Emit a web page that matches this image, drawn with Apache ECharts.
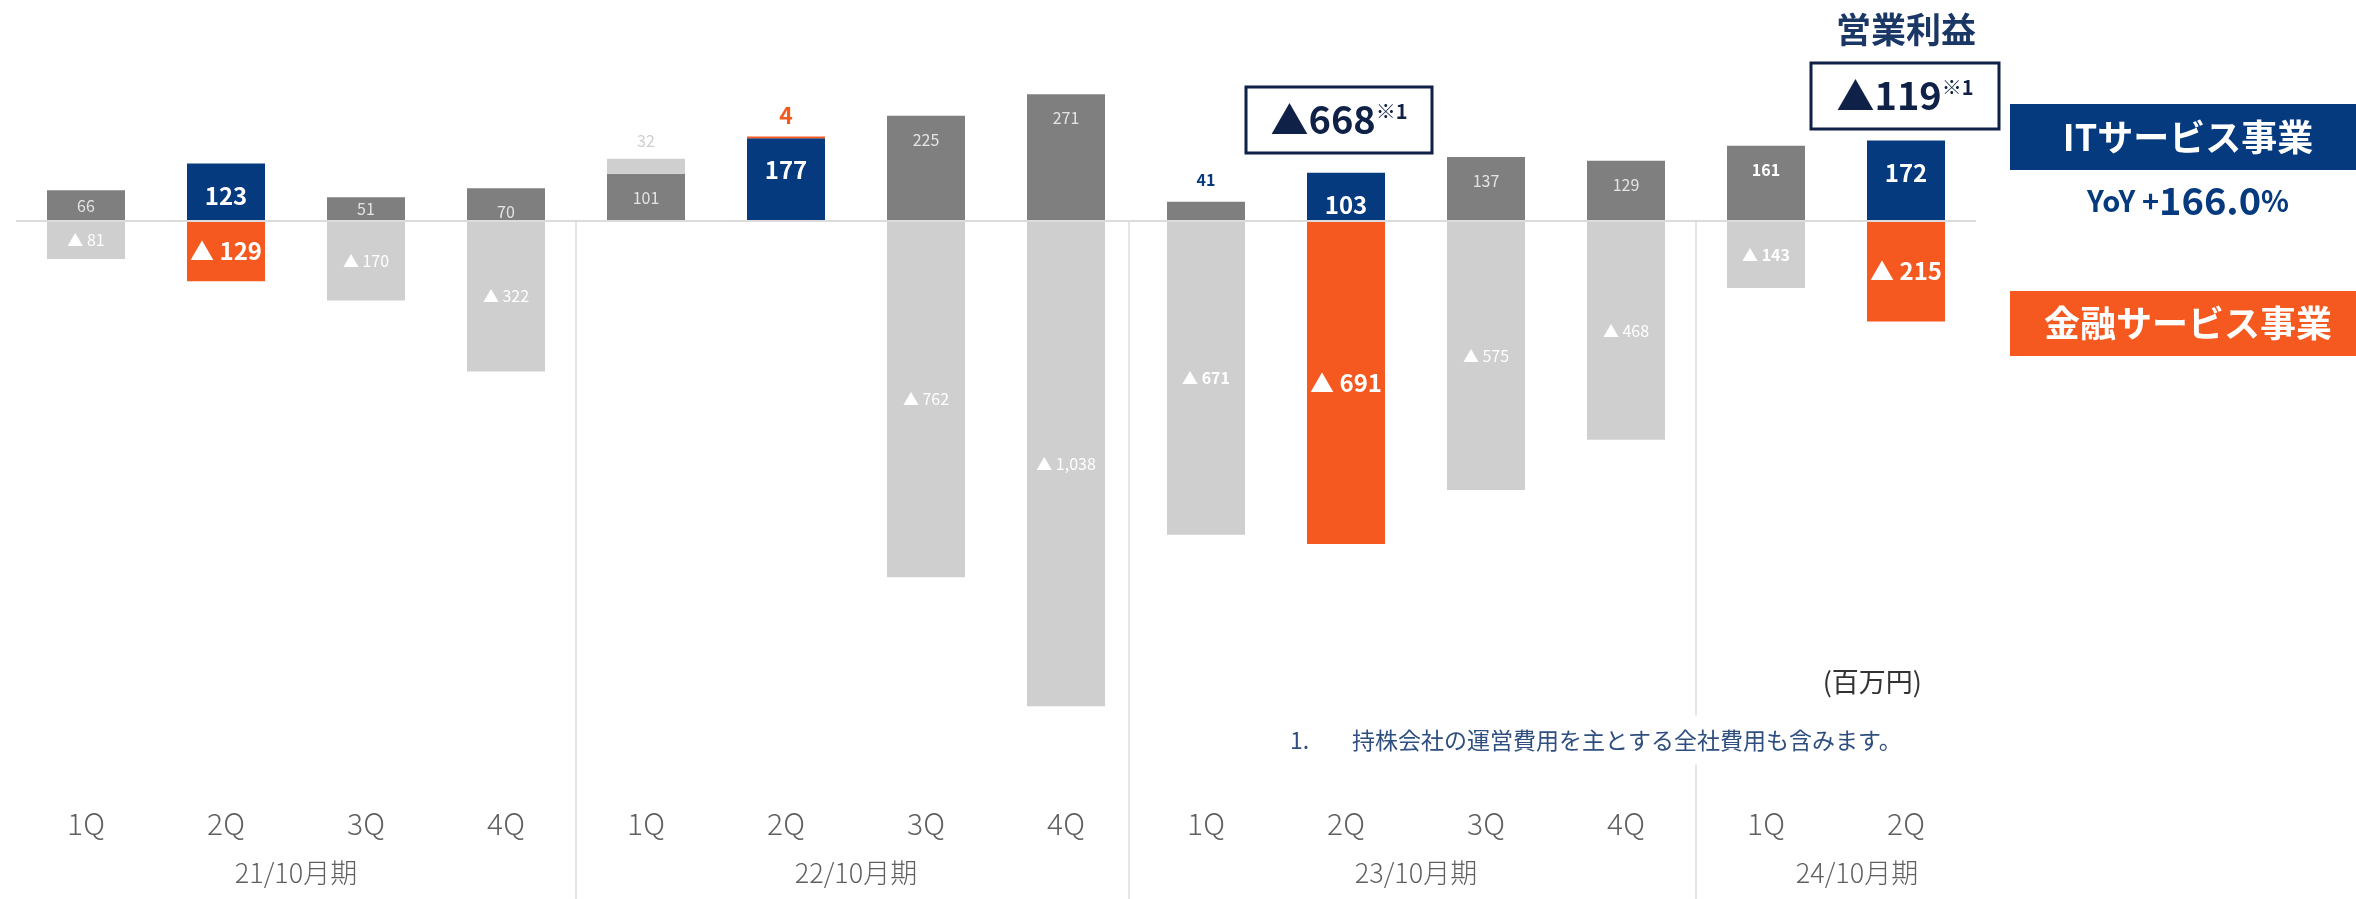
<!DOCTYPE html>
<html>
<head>
<meta charset="utf-8">
<script src="https://cdn.jsdelivr.net/npm/echarts@6/dist/echarts.min.js"></script>
<style>
  html, body { margin: 0; padding: 0; background: #fff; }
  #chart { width: 2356px; height: 899px; }
</style>
</head>
<body>
<div id="chart"></div>
<script>
// quarters on the x axis
const quarters = ['1Q', '2Q', '3Q', '4Q', '1Q', '2Q', '3Q', '4Q', '1Q', '2Q', '3Q', '4Q', '1Q', '2Q']
// ITサービス事業 / 金融サービス事業 segment profit (百万円)
const itProfit = [66, 123, 51, 70, 101, 177, 225, 271, 41, 103, 137, 129, 161, 172]
const finProfit = [-81, -129, -170, -322, 32, 4, -762, -1038, -671, -691, -575, -468, -143, -215]
// 2Q columns are drawn in colour
const highlight = [false, true, false, false, false, true, false, false, false, true, false, false, false, true]
// quarters whose small labels are bold
const boldLabel = [false, false, false, false, false, false, false, false, true, false, false, false, true, false]
// fiscal year labels and where they sit on the (index) axis
const fiscalYears = ['21/10月期', '22/10月期', '23/10月期', '24/10月期']
const fiscalYearPos = [1.5, 5.5, 9.5, 12.65]
const dividerPos = [3.5, 7.45, 11.5]

const NAVY = '#063a7e'
const ORANGE = '#f5591f'
const DARK_GRAY = '#7f7f7f'
const LIGHT_GRAY = '#d0cfd0'
const FONT = '"Noto Sans CJK JP", "Noto Sans", sans-serif'

const fmt = v => (v < 0 ? '▲ ' : '') + Math.abs(v).toLocaleString('en-US')

const itData = itProfit.map((v, i) => {
  let label
  if (highlight[i]) {
    label = { position: 'insideTop', distance: 20, color: '#fff', fontSize: 24, fontWeight: 'bold' }
  } else if (v < 50) {
    label = { position: 'top', distance: 14, color: NAVY, fontSize: 16, fontWeight: 'bold' }
  } else if (v < 68) {
    label = { position: 'inside', color: '#e4e4e4', fontSize: 16 }
  } else {
    label = { position: 'insideTop', distance: 16, color: boldLabel[i] ? '#fff' : '#e4e4e4', fontSize: 16, fontWeight: boldLabel[i] ? 'bold' : 'normal' }
  }
  return { value: v, itemStyle: { color: highlight[i] ? NAVY : DARK_GRAY }, label }
})

const finData = finProfit.map((v, i) => {
  let label
  if (v > 0) {
    label = highlight[i]
      ? { position: 'top', distance: 10, color: ORANGE, fontSize: 23, fontWeight: 'bold' }
      : { position: 'top', distance: 10, color: LIGHT_GRAY, fontSize: 16 }
  } else if (highlight[i]) {
    label = { position: 'inside', color: '#fff', fontSize: 24, fontWeight: 'bold' }
  } else {
    label = { position: 'inside', color: '#fff', fontSize: 16, fontWeight: boldLabel[i] ? 'bold' : 'normal' }
  }
  return { value: v, itemStyle: { color: highlight[i] ? ORANGE : LIGHT_GRAY }, label }
})

const chart = echarts.init(document.getElementById('chart'))

const option = {
  backgroundColor: '#fff',
  animation: false,
  textStyle: { fontFamily: FONT },
  grid: { left: 16, right: 380, top: 34, bottom: 0 },
  xAxis: [
    {
      type: 'category',
      data: quarters,
      position: 'bottom',
      axisLine: { show: false },
      axisTick: { show: false },
      axisLabel: {
        inside: true,
        margin: 75,
        verticalAlign: 'middle',
        color: '#606060',
        fontSize: 30,
        fontWeight: 300,
        fontFamily: FONT
      }
    },
    {
      type: 'value',
      min: -0.5,
      max: 13.5,
      position: 'bottom',
      axisLine: { show: false },
      axisTick: { show: false },
      splitLine: { show: false },
      axisLabel: {
        inside: true,
        margin: 26,
        verticalAlign: 'middle',
        customValues: fiscalYearPos,
        formatter: v => fiscalYears[fiscalYearPos.indexOf(v)] || '',
        color: '#606060',
        fontSize: 27,
        fontWeight: 300,
        fontFamily: FONT
      }
    }
  ],
  yAxis: {
    type: 'value',
    min: -1450,
    max: 400,
    show: false,
    splitLine: { show: false }
  },
  series: [
    {
      name: 'ITサービス事業',
      type: 'bar',
      stack: 'profit',
      barWidth: 78,
      data: itData,
      label: { show: true, formatter: p => fmt(p.value), fontFamily: FONT }
    },
    {
      name: '金融サービス事業',
      type: 'bar',
      stack: 'profit',
      barWidth: 78,
      data: finData,
      label: { show: true, formatter: p => fmt(p.value), fontFamily: FONT }
    },
    {
      // zero line and fiscal-year dividers
      type: 'line',
      xAxisIndex: 1,
      data: [],
      z: 5,
      silent: true,
      markLine: {
        symbol: 'none',
        silent: true,
        label: { show: false },
        lineStyle: { color: '#dcdcdc', type: 'solid', width: 2 },
        data: [{ yAxis: 0 }].concat(
          dividerPos.map(x => [
            { coord: [x, 0], lineStyle: { width: 1.5 } },
            { coord: [x, -1450] }
          ])
        )
      }
    }
  ],
  graphic: [
    {
      type: 'text', x: 1906, y: 30, z: 10,
      style: { text: '営業利益', font: 'bold 35px ' + FONT, fill: '#1b3766', align: 'center', verticalAlign: 'middle' }
    },
    {
      type: 'rect', z: 10,
      shape: { x: 1246, y: 87, width: 186, height: 66 },
      style: { fill: '#fff', stroke: '#0f2147', lineWidth: 3 }
    },
    {
      type: 'text', x: 1339, y: 120, z: 11,
      style: {
        text: '{a|▲668}{b|※1}',
        align: 'center', verticalAlign: 'middle',
        rich: {
          a: { fontSize: 38, fontWeight: 'bold', fontFamily: FONT, fill: '#0f2147' },
          b: { fontSize: 20, fontWeight: 'bold', fontFamily: FONT, fill: '#0f2147', verticalAlign: 'top', padding: [0, 0, 16, 0] }
        }
      }
    },
    {
      type: 'rect', z: 10,
      shape: { x: 1811, y: 63, width: 188, height: 66 },
      style: { fill: '#fff', stroke: '#0f2147', lineWidth: 3 }
    },
    {
      type: 'text', x: 1905, y: 96, z: 11,
      style: {
        text: '{a|▲119}{b|※1}',
        align: 'center', verticalAlign: 'middle',
        rich: {
          a: { fontSize: 38, fontWeight: 'bold', fontFamily: FONT, fill: '#0f2147' },
          b: { fontSize: 20, fontWeight: 'bold', fontFamily: FONT, fill: '#0f2147', verticalAlign: 'top', padding: [0, 0, 16, 0] }
        }
      }
    },
    {
      type: 'rect', z: 10,
      shape: { x: 2010, y: 104, width: 346, height: 66 },
      style: { fill: NAVY }
    },
    {
      type: 'text', x: 2188, y: 137, z: 11,
      style: { text: 'ITサービス事業', font: 'bold 36px ' + FONT, fill: '#fff', align: 'center', verticalAlign: 'middle' }
    },
    {
      type: 'text', x: 2188, y: 201, z: 11,
      style: {
        text: '{a|YoY +}{b|166.0}{c|%}',
        align: 'center', verticalAlign: 'middle',
        rich: {
          a: { fontSize: 29, fontWeight: 'bold', fontFamily: FONT, fill: NAVY },
          b: { fontSize: 38, fontWeight: 'bold', fontFamily: FONT, fill: NAVY },
          c: { fontSize: 29, fontWeight: 'bold', fontFamily: FONT, fill: NAVY }
        }
      }
    },
    {
      type: 'rect', z: 10,
      shape: { x: 2010, y: 291, width: 346, height: 65 },
      style: { fill: ORANGE }
    },
    {
      type: 'text', x: 2188, y: 323, z: 11,
      style: { text: '金融サービス事業', font: 'bold 36px ' + FONT, fill: '#fff', align: 'center', verticalAlign: 'middle' }
    },
    {
      type: 'text', x: 1922, y: 682, z: 11,
      style: { text: '(百万円)', font: '27px ' + FONT, fill: '#333', align: 'right', verticalAlign: 'middle' }
    },
    {
      type: 'text', x: 1290, y: 740, z: 11,
      style: { text: '1.', font: '23px ' + FONT, fill: '#2f4f80', align: 'left', verticalAlign: 'middle' }
    },
    {
      type: 'text', x: 1348, y: 740, z: 11,
      style: {
        text: '持株会社の運営費用を主とする全社費用も含みます。',
        font: '23px ' + FONT, fill: '#2f4f80', align: 'left', verticalAlign: 'middle',
        backgroundColor: '#fff', padding: [13, 4]
      }
    }
  ]
}

chart.setOption(option)
</script>
</body>
</html>
